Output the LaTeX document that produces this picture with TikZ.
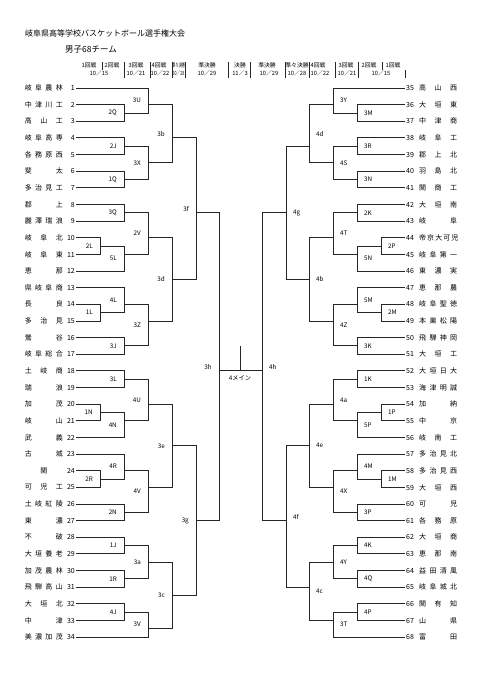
\documentclass[tikz,border=0pt]{standalone}
\usepackage{fontspec}
\usepackage{graphicx}
\setmainfont{Noto Sans CJK JP}
\usetikzlibrary{calc}
\tikzset{
    wire/.style = {line width = 0.9pt, black!85},
    team/.style = {inner sep = 1pt, font = \fontsize{7}{8}\selectfont},
    mlabel/.style = {inner sep = 0pt, font = \fontsize{6.3}{7}\selectfont},
    hdr/.style = {inner sep = 0pt, font = \fontsize{5.8}{6}\selectfont},
    lside/.style = {anchor = east, xshift = -7pt},
    rside/.style = {anchor = west, xshift = 7pt}
}
\newcommand\lname[2]{\makebox[38pt][s]{#1}\makebox[12pt][r]{#2}}
\newcommand\rname[2]{\makebox[13pt][l]{#1}\makebox[38pt][s]{#2}}
% one game: name, column x, upper entry, lower entry, grid row of the winner line, label side
\newcommand\bout[6]{%
    \coordinate (#1) at (#2, {88+8.32*#5});
    \draw[wire] (#3) -| (#1);
    \draw[wire] (#4) -| (#1);
    \node[mlabel, #6] at ($(#1 |- #3)!.5!(#1 |- #4)$) {#1};
}

\begin{document}
\begin{tikzpicture}[x = 1pt, y = -1pt]
    \useasboundingbox (0, 0) rectangle (481, 680);

    \node[anchor = west, inner sep = 0pt, font = \fontsize{8}{9}\selectfont] (title) at (25, 33) {岐阜県高等学校バスケットボール選手権大会};
    \node[anchor = west, inner sep = 0pt, font = \fontsize{8.5}{9}\selectfont] (sub) at (65, 50) {男子68チーム};

    % round headers
    \foreach \x/\t in {89/1回戦, 112/2回戦, 136/3回戦, 159/4回戦, 207/準決勝, 240/決勝,
                       267/準決勝, 297/準々決勝, 318/4回戦, 346/3回戦, 369/2回戦, 393/1回戦}
        \node[hdr] at (\x, 65) {\t};
    \foreach \x/\t in {99/10／15, 136/10／21, 160/10／22, 207/10／29, 240/11／3,
                       269/10／29, 297/10／28, 320/10／22, 347/10／21, 381/10／15}
        \node[hdr] at (\x, 73) {\t};
    \node[hdr] at (178.5, 65) {\scalebox{.55}[1]{準々決勝}};
    \node[hdr] at (178.5, 73) {\scalebox{.62}[1]{10／28}};
    \foreach \x in {124, 150, 172, 185, 228, 250, 285, 309, 335, 358}
        \draw[wire] (\x, 62) -- (\x, 78);
    \draw[wire] (102, 62) -- (102, 70);
    \draw[wire] (382, 62) -- (382, 70);
    \draw[wire] (405, 70) -- (405, 78);

    % teams
    \foreach \nm [count = \i] in {岐 阜 農 林, 中 津 川 工, 高 山 工, 岐 阜 高 専, 各 務 原 西,
            斐 太, 多 治 見 工, 郡 上, 麗 澤 瑞 浪, 岐 阜 北, 岐 阜 東, 恵 那, 県 岐 阜 商,
            長 良, 多 治 見, 鶯 谷, 岐 阜 総 合, 土 岐 商, 瑞 浪, 加 茂, 岐 山, 武 義, 古 城,
            \hfil 関\hfil, 可 児 工, 土 岐 紅 陵, 東 濃, 不 破, 大 垣 養 老, 加 茂 農 林,
            飛 騨 高 山, 大 垣 北, 中 津, 美 濃 加 茂}
        \node[team, anchor = east] (t\i) at (76, {88+16.64*(\i-1)}) {\lname{\nm}{\i}};
    \foreach \nm [count = \i from 35] in {高 山 西, 大 垣 東, 中 津 商, 岐 阜 工, 郡 上 北,
            羽 島 北, 関 商 工, 大 垣 南, 岐 阜, 帝 京 大 可 児, 岐 阜 第 一, 東 濃 実,
            恵 那 農, 岐 阜 聖 徳, 本 巣 松 陽, 飛 騨 神 岡, 大 垣 工, 大 垣 日 大, 海 津 明 誠,
            加 納, 中 京, 岐 南 工, 多 治 見 北, 多 治 見 西, 大 垣 西, 可 児, 各 務 原,
            大 垣 商, 恵 那 南, 益 田 清 風, 岐 阜 城 北, 関 有 知, 山 県, 富 田}
        \node[team, anchor = west] (t\i) at (405, {88+16.64*(\i-35)}) {\rname{\i}{\nm}};

    % left half
    \bout{2Q}{124}{t2.east}{t3.east}{3}{lside}
    \bout{3U}{148}{t1.east}{2Q}{2}{lside}
    \bout{2J}{124}{t4.east}{t5.east}{7}{lside}
    \bout{1Q}{124}{t6.east}{t7.east}{11}{lside}
    \bout{3X}{148}{2J}{1Q}{9}{lside}
    \bout{3b}{172}{3U}{3X}{6}{lside}
    \bout{3Q}{124}{t8.east}{t9.east}{15}{lside}
    \bout{2L}{100}{t10.east}{t11.east}{19}{lside}
    \bout{5L}{124}{2L}{t12.east}{20}{lside}
    \bout{2V}{148}{3Q}{5L}{18}{lside}
    \bout{1L}{100}{t14.east}{t15.east}{27}{lside}
    \bout{4L}{124}{t13.east}{1L}{26}{lside}
    \bout{3J}{124}{t16.east}{t17.east}{31}{lside}
    \bout{3Z}{148}{4L}{3J}{28}{lside}
    \bout{3d}{172}{2V}{3Z}{23}{lside}
    \bout{3f}{196}{3b}{3d}{15}{lside}
    \bout{3L}{124}{t18.east}{t19.east}{35}{lside}
    \bout{1N}{100}{t20.east}{t21.east}{39}{lside}
    \bout{4N}{124}{1N}{t22.east}{40}{lside}
    \bout{4U}{148}{3L}{4N}{38}{lside}
    \bout{2R}{100}{t24.east}{t25.east}{47}{lside}
    \bout{4R}{124}{t23.east}{2R}{46}{lside}
    \bout{2N}{124}{t26.east}{t27.east}{51}{lside}
    \bout{4V}{148}{4R}{2N}{48}{lside}
    \bout{3e}{172}{4U}{4V}{43}{lside}
    \bout{1J}{124}{t28.east}{t29.east}{55}{lside}
    \bout{1R}{124}{t30.east}{t31.east}{59}{lside}
    \bout{3a}{148}{1J}{1R}{57}{lside}
    \bout{4J}{124}{t32.east}{t33.east}{63}{lside}
    \bout{3V}{148}{4J}{t34.east}{65}{lside}
    \bout{3c}{172}{3a}{3V}{61}{lside}
    \bout{3g}{196}{3e}{3c}{52}{lside}
    \bout{3h}{219}{3f}{3g}{34}{lside}

    % right half
    \bout{3M}{357}{t36.west}{t37.west}{3}{rside}
    \bout{3Y}{333}{t35.west}{3M}{2}{rside}
    \bout{3R}{357}{t38.west}{t39.west}{7}{rside}
    \bout{3N}{357}{t40.west}{t41.west}{11}{rside}
    \bout{4S}{333}{3R}{3N}{9}{rside}
    \bout{4d}{309}{3Y}{4S}{7}{rside}
    \bout{2K}{357}{t42.west}{t43.west}{15}{rside}
    \bout{2P}{381}{t44.west}{t45.west}{19}{rside}
    \bout{5N}{357}{2P}{t46.west}{20}{rside}
    \bout{4T}{333}{2K}{5N}{18}{rside}
    \bout{2M}{381}{t48.west}{t49.west}{27}{rside}
    \bout{5M}{357}{t47.west}{2M}{26}{rside}
    \bout{3K}{357}{t50.west}{t51.west}{31}{rside}
    \bout{4Z}{333}{5M}{3K}{28}{rside}
    \bout{4b}{309}{4T}{4Z}{23}{rside}
    \bout{4g}{286}{4d}{4b}{15}{rside}
    \bout{1K}{357}{t52.west}{t53.west}{35}{rside}
    \bout{1P}{381}{t54.west}{t55.west}{39}{rside}
    \bout{5P}{357}{1P}{t56.west}{40}{rside}
    \bout{4a}{333}{1K}{5P}{38}{rside}
    \bout{1M}{381}{t58.west}{t59.west}{47}{rside}
    \bout{4M}{357}{t57.west}{1M}{46}{rside}
    \bout{3P}{357}{t60.west}{t61.west}{51}{rside}
    \bout{4X}{333}{4M}{3P}{48}{rside}
    \bout{4e}{309}{4a}{4X}{43}{rside}
    \bout{4K}{357}{t62.west}{t63.west}{55}{rside}
    \bout{4Q}{357}{t64.west}{t65.west}{59}{rside}
    \bout{4Y}{333}{4K}{4Q}{57}{rside}
    \bout{4P}{357}{t66.west}{t67.west}{63}{rside}
    \bout{3T}{333}{4P}{t68.west}{64}{rside}
    \bout{4c}{309}{4Y}{3T}{60}{rside}
    \bout{4f}{286}{4e}{4c}{52}{rside}
    \bout{4h}{262}{4g}{4f}{34}{rside}

    % final
    \draw[wire] (3h) -- (4h);
    \coordinate (ftop) at (240, 346);
    \draw[wire] (ftop) -- (ftop |- 3h);
    \node[mlabel, anchor = north] (main) at (240, 375) {4メイン};
\end{tikzpicture}
\end{document}
